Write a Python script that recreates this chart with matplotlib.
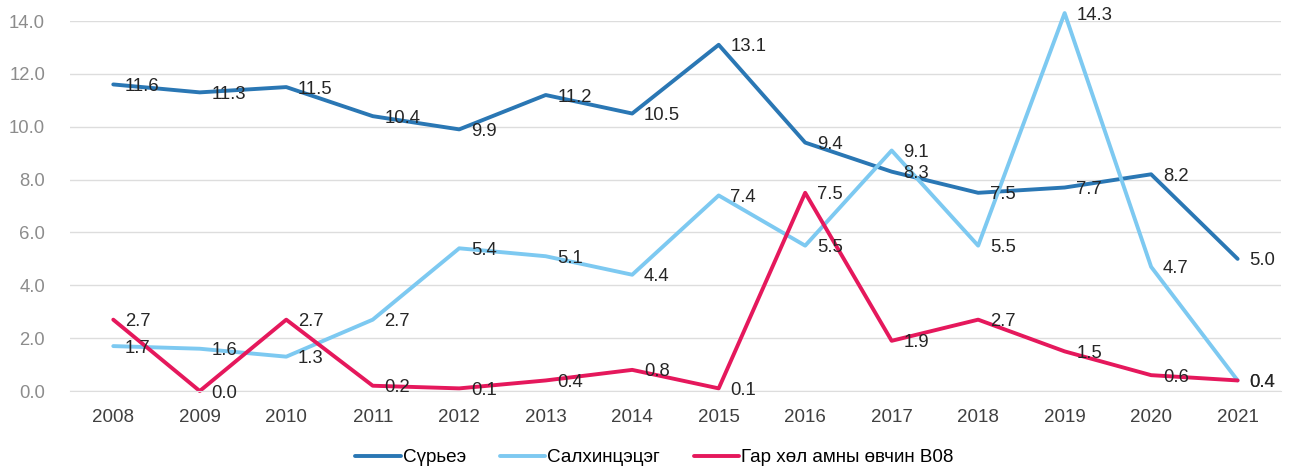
import matplotlib.pyplot as plt

years = ['2008', '2009', '2010', '2011', '2012', '2013', '2014',
         '2015', '2016', '2017', '2018', '2019', '2020', '2021']
tb = [11.6, 11.3, 11.5, 10.4, 9.9, 11.2, 10.5, 13.1, 9.4, 8.3, 7.5, 7.7, 8.2, 5.0]
chickenpox = [1.7, 1.6, 1.3, 2.7, 5.4, 5.1, 4.4, 7.4, 5.5, 9.1, 5.5, 14.3, 4.7, 0.4]
hfmd = [2.7, 0.0, 2.7, 0.2, 0.1, 0.4, 0.8, 0.1, 7.5, 1.9, 2.7, 1.5, 0.6, 0.4]

names = ['Сүрьеэ', 'Салхинцэцэг', 'Гар хөл амны өвчин B08']
colors = ['#2A77B4', '#7DC9F1', '#E5185C']

plt.rcParams['font.family'] = ['Liberation Sans', 'DejaVu Sans']

fig = plt.figure(figsize=(13.09, 4.67), dpi=100)
ax = fig.add_axes([0.0535, 0.1627, 0.925, 0.7923])

x = list(range(len(years)))
for vals, name, c in zip([tb, chickenpox, hfmd], names, colors):
    ax.plot(x, vals, color=c, lw=2.8, label=name, solid_capstyle='round', clip_on=False)
    for xi, v in zip(x, vals):
        ax.annotate(f'{v:.1f}', (xi, v), xytext=(8.5, -1.5), textcoords='offset points',
                    ha='left', va='center', fontsize=13.3, color='#262626',
                    annotation_clip=False)

ax.set_xlim(-0.5, len(years) - 0.5)
ax.set_ylim(0, 14)
ax.set_yticks([0, 2, 4, 6, 8, 10, 12, 14])
ax.set_yticklabels([f'{t:.1f}' for t in ax.get_yticks()])
ax.set_xticks(x)
ax.set_xticklabels(years)
ax.tick_params(axis='y', colors='#8C8C8C', labelsize=13.3, length=0, pad=18)
ax.tick_params(axis='x', colors='#404040', labelsize=13.5, length=0, pad=13)
ax.grid(axis='y', color='#DDDDDD', lw=1)
ax.set_axisbelow(True)
for s in ['top', 'right', 'left']:
    ax.spines[s].set_visible(False)
ax.spines['bottom'].set_color('#DDDDDD')

fig.legend(loc='center', ncol=3, frameon=False, fontsize=13.6,
           bbox_to_anchor=(0.5, 0.02), handlelength=2.4, handletextpad=0.1,
           columnspacing=1.8)

fig.savefig('out.png', dpi=100)
